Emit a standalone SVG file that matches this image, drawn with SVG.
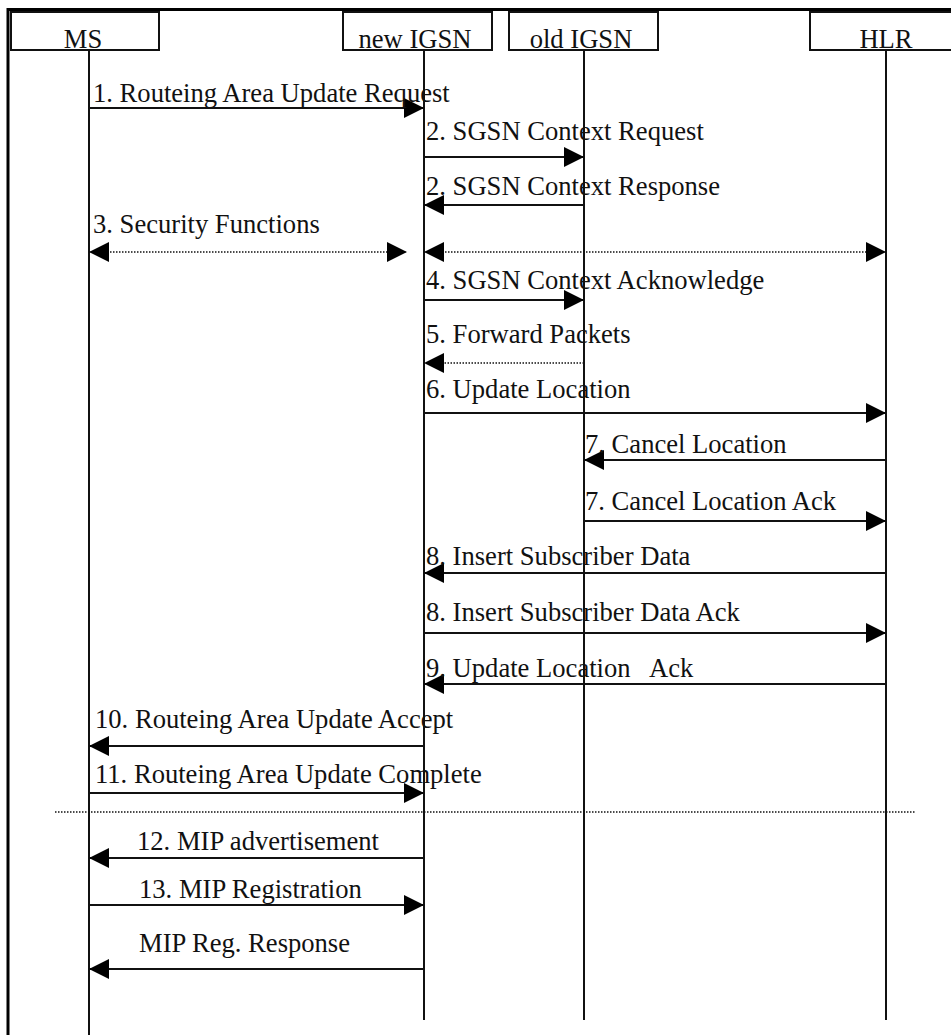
<svg xmlns="http://www.w3.org/2000/svg" width="951" height="1035" viewBox="0 0 951 1035">
  <style>
    .frame { stroke: #000; stroke-width: 3; fill: none; }
    .box { fill: #fff; stroke: #111; stroke-width: 2; }
    .life { stroke: #111; stroke-width: 2; fill: none; }
    .msg { stroke: #111; stroke-width: 2; fill: none; marker-end: url(#head); }
    .dot { stroke: #111; stroke-width: 1.5; stroke-dasharray: 1.5 1.5; fill: none; }
    .dot2 { marker-start: url(#headS); marker-end: url(#head); }
    .dot1 { marker-end: url(#head); }
    text { font-family: "Liberation Serif", "Times New Roman", serif; font-size: 26.6px; fill: #111; }
    .hdr { text-anchor: middle; }
  </style>
  <defs>
    <marker id="head" markerUnits="userSpaceOnUse" markerWidth="20" markerHeight="20" refX="20" refY="10" orient="auto">
      <path d="M0,0 L20,10 L0,20 Z" fill="#000"/>
    </marker>
    <marker id="headS" markerUnits="userSpaceOnUse" markerWidth="20" markerHeight="20" refX="0" refY="10" orient="auto">
      <path d="M20,0 L0,10 L20,20 Z" fill="#000"/>
    </marker>
  </defs>

  <rect width="951" height="1035" fill="#fff"/>

  <!-- outer frame -->
  <g id="frame">
    <line class="frame" x1="8" y1="9.5" x2="951" y2="9.5"/>
    <line class="frame" x1="8" y1="8" x2="8" y2="1035"/>
  </g>

  <!-- lifelines -->
  <g id="lifelines">
    <line class="life" x1="89" y1="50" x2="89" y2="1035"/>
    <line class="life" x1="424" y1="50" x2="424" y2="1020"/>
    <line class="life" x1="584" y1="50" x2="584" y2="1020"/>
    <line class="life" x1="886" y1="50" x2="886" y2="1020"/>
  </g>

  <!-- participants -->
  <g id="node-ms">
    <rect class="box" x="11" y="12" width="148" height="38"/>
    <text class="hdr" x="83" y="48">MS</text>
  </g>
  <g id="node-new-igsn">
    <rect class="box" x="343" y="12" width="149" height="38"/>
    <text class="hdr" x="415" y="48">new IGSN</text>
  </g>
  <g id="node-old-igsn">
    <rect class="box" x="509" y="12" width="149" height="38"/>
    <text class="hdr" x="581" y="48">old IGSN</text>
  </g>
  <g id="node-hlr">
    <rect class="box" x="810" y="12" width="150" height="38"/>
    <text class="hdr" x="886" y="48">HLR</text>
  </g>

  <!-- message arrows -->
  <g id="connectors">
    <line class="msg" x1="89" y1="108" x2="424" y2="108"/>
    <line class="msg" x1="424" y1="157" x2="584" y2="157"/>
    <line class="msg" x1="584" y1="205" x2="424" y2="205"/>
    <line class="dot dot2" x1="89" y1="252" x2="407" y2="252"/>
    <line class="dot dot2" x1="424" y1="252" x2="886" y2="252"/>
    <line class="msg" x1="424" y1="300" x2="584" y2="300"/>
    <line class="dot dot1" x1="584" y1="363" x2="424" y2="363"/>
    <line class="msg" x1="424" y1="413" x2="886" y2="413"/>
    <line class="msg" x1="886" y1="460" x2="584" y2="460"/>
    <line class="msg" x1="584" y1="521" x2="886" y2="521"/>
    <line class="msg" x1="886" y1="573" x2="424" y2="573"/>
    <line class="msg" x1="424" y1="633" x2="886" y2="633"/>
    <line class="msg" x1="886" y1="684" x2="424" y2="684"/>
    <line class="msg" x1="424" y1="746" x2="89" y2="746"/>
    <line class="msg" x1="89" y1="793" x2="424" y2="793"/>
    <line class="dot" x1="55" y1="812" x2="916" y2="812"/>
    <line class="msg" x1="424" y1="858" x2="89" y2="858"/>
    <line class="msg" x1="89" y1="905" x2="424" y2="905"/>
    <line class="msg" x1="424" y1="969" x2="89" y2="969"/>
  </g>

  <!-- message labels -->
  <g id="labels">
    <text x="93" y="102">1. Routeing Area Update Request</text>
    <text x="426" y="140">2. SGSN Context Request</text>
    <text x="426" y="195">2. SGSN Context Response</text>
    <text x="93" y="233">3. Security Functions</text>
    <text x="426" y="289">4. SGSN Context Acknowledge</text>
    <text x="426" y="343">5. Forward Packets</text>
    <text x="426" y="398">6. Update Location</text>
    <text x="585" y="453">7. Cancel Location</text>
    <text x="585" y="510">7. Cancel Location Ack</text>
    <text x="426" y="565">8. Insert Subscriber Data</text>
    <text x="426" y="621">8. Insert Subscriber Data Ack</text>
    <text x="426" y="677" xml:space="preserve">9. Update Location   Ack</text>
    <text x="95" y="728">10. Routeing Area Update Accept</text>
    <text x="95" y="783">11. Routeing Area Update Complete</text>
    <text x="137" y="850">12. MIP advertisement</text>
    <text x="139" y="898">13. MIP Registration</text>
    <text x="139" y="952">MIP Reg. Response</text>
  </g>
</svg>
